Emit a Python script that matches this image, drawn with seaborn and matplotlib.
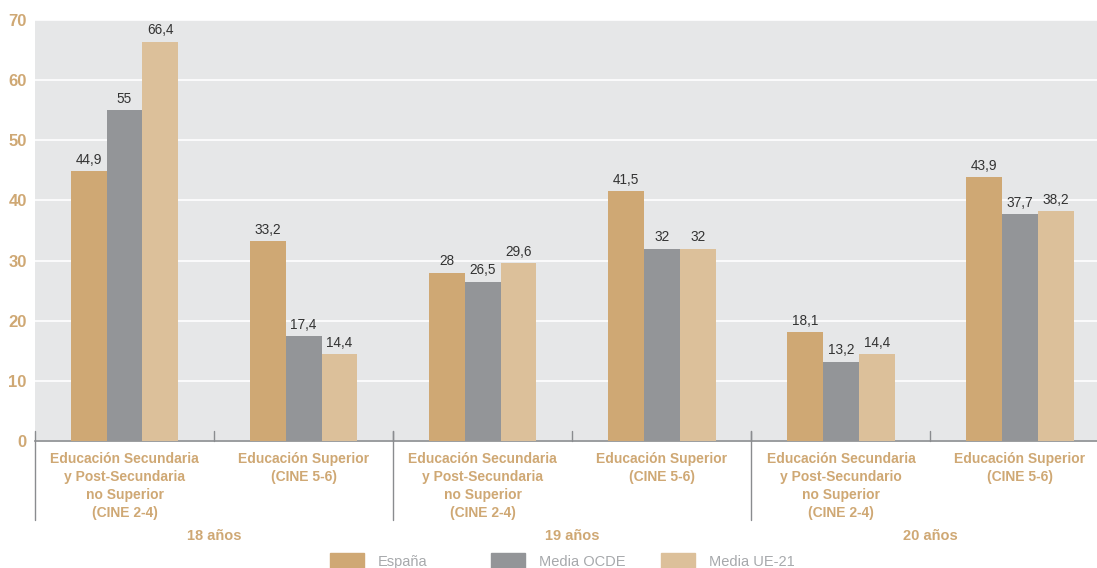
import pandas as pd
import seaborn as sns
import matplotlib.pyplot as plt

categorias = ['Educación Secundaria\ny Post-Secundaria\nno Superior\n(CINE 2-4)',
              'Educación Superior\n(CINE 5-6)',
              'Educación Secundaria\ny Post-Secundaria\nno Superior\n(CINE 2-4)',
              'Educación Superior\n(CINE 5-6)',
              'Educación Secundaria\ny Post-Secundario\nno Superior\n(CINE 2-4)',
              'Educación Superior\n(CINE 5-6)']
grupos = ['18 años', '19 años', '20 años']
series = ['España', 'Media OCDE', 'Media UE-21']
espana = [44.9, 33.2, 28, 41.5, 18.1, 43.9]
ocde = [55, 17.4, 26.5, 32, 13.2, 37.7]
ue21 = [66.4, 14.4, 29.6, 32, 14.4, 38.2]
colores = ['#cfa874', '#939598', '#dcc09a']

rows = []
for i in range(len(categorias)):
    for s, vals in zip(series, [espana, ocde, ue21]):
        rows.append({'cat': f'c{i}', 'serie': s, 'valor': vals[i]})
df = pd.DataFrame(rows)

sns.set_style('white')
plt.rcParams['font.family'] = ['Liberation Sans', 'DejaVu Sans']
tan = '#cfa874'

fig = plt.figure(figsize=(10.97, 5.68), dpi=100)
ax = fig.add_axes([35 / 1097, 1 - 441 / 568, 1 - 35 / 1097, (441 - 20) / 568])
ax.set_facecolor('#e6e7e8')
sns.barplot(data=df, x='cat', y='valor', hue='serie', palette=colores,
            width=0.6, ax=ax, legend=False, saturation=1, linewidth=0, zorder=3)

def fmt(v):
    return ('%g' % v).replace('.', ',')

for cont in ax.containers:
    ax.bar_label(cont, labels=[fmt(b.get_height()) for b in cont],
                 padding=3, fontsize=9.8, color='#333333')

ax.set_ylim(0, 70)
ax.set_xlim(-0.5, 5.43)
ax.set_yticks(range(0, 71, 10))
ax.set_yticklabels([str(v) for v in range(0, 71, 10)], fontsize=12,
                   fontweight='bold', color=tan)
ax.tick_params(axis='y', length=0, pad=6)
ax.yaxis.grid(True, color='white', linewidth=1.2, zorder=0)
ax.set_axisbelow(True)
ax.set_xticks(range(len(categorias)))
ax.set_xticklabels(categorias, fontsize=10, fontweight='bold', color=tan,
                   linespacing=1.37, va='top')
ax.tick_params(axis='x', length=0, pad=8)
ax.set_xlabel('')
ax.set_ylabel('')
for s in ['top', 'right', 'left']:
    ax.spines[s].set_visible(False)
ax.spines['bottom'].set_color('#8a8c8f')
ax.spines['bottom'].set_linewidth(1.2)

trans = ax.get_xaxis_transform()
for b in [0.5, 1.5, 2.5, 3.5, 4.5]:
    ax.plot([b, b], [0, 10 / 421], color='#8a8c8f', lw=1, transform=trans,
            clip_on=False, zorder=4)
for b in [-0.5, 1.5, 3.5]:
    ax.plot([b, b], [10 / 421, -79 / 421], color='#8a8c8f', lw=1,
            transform=trans, clip_on=False, zorder=4)
for g, lab in enumerate(grupos):
    ax.text(2 * g + 0.5, -88 / 421, lab, transform=trans, ha='center', va='top',
            fontsize=10.5, fontweight='bold', color=tan)

# one legend per entry, to keep the uneven spacing of the original
for lab, col, x0 in zip(series, colores, [330, 491, 661]):
    leg = fig.legend([plt.Rectangle((0, 0), 1, 1, color=col)], [lab],
                     loc='upper left', bbox_to_anchor=(x0 / 1097, 1 - 553 / 568),
                     frameon=False, fontsize=10.5, handlelength=2.3,
                     handleheight=1.4, handletextpad=1.0, borderpad=0,
                     borderaxespad=0)
    for t in leg.get_texts():
        t.set_color('#a7a9ac')

fig.savefig('out.png', dpi=100)
